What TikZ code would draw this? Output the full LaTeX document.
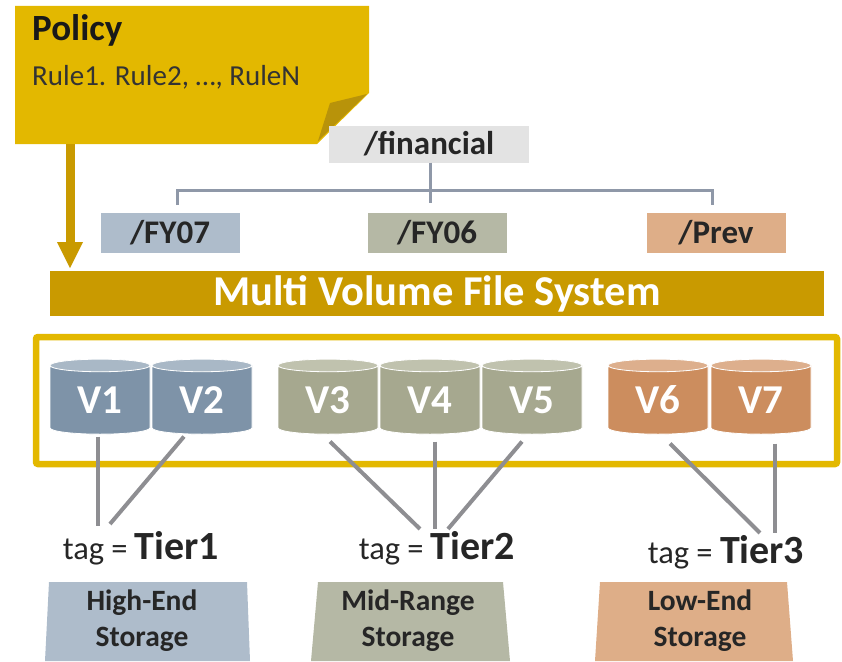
\documentclass[tikz,border=0pt]{standalone}
\usepackage{amsthm, amsmath, amssymb}
\usepackage{fontspec}
\setmainfont{Carlito}
\usetikzlibrary{shapes.geometric}
\definecolor{gold}{HTML}{E3B800}
\definecolor{golddark}{HTML}{C99A00}
\definecolor{foldgold}{HTML}{B8930A}
\definecolor{blueV}{HTML}{7E93A8}
\definecolor{blueVtop}{HTML}{A9B8C6}
\definecolor{oliveV}{HTML}{A6A88F}
\definecolor{oliveVtop}{HTML}{C0C2AE}
\definecolor{orangeV}{HTML}{CC8D5E}
\definecolor{orangeVtop}{HTML}{DDAF8D}
\definecolor{blueS}{HTML}{AEBCCB}
\definecolor{oliveS}{HTML}{B5B8A5}
\definecolor{orangeS}{HTML}{DEAE88}
\definecolor{treeline}{HTML}{8F98A8}
\definecolor{linkgray}{HTML}{8E8E92}
\newcommand{\tiername}[1]{{\fontsize{40}{41}\selectfont\bfseries #1}}
\tikzset{
  dirbox/.style={minimum width=139pt, minimum height=40pt, inner sep=0pt, text=black!85, font=\fontsize{33}{34}\selectfont\bfseries},
  vol/.style={cylinder, shape border rotate=90, aspect=.28, draw=white, line width=.8pt, minimum width=100pt, minimum height=75pt, inner sep=0pt, cylinder uses custom fill, text=white, font=\fontsize{41}{42}\selectfont\bfseries},
  link/.style={line width=4pt, linkgray},
  tagline/.style={inner sep=0pt, text=black!85, font=\fontsize{32.5}{33}\selectfont},
  storetext/.style={align=center, inner sep=0pt, text=black!85, font=\fontsize{29.5}{36}\selectfont\bfseries}
}
\begin{document}
\begin{tikzpicture}[x = 1pt, y = -1pt]
        \useasboundingbox (0,0) rectangle (842,661);
        % policy note
        \fill[gold] (15,6) -- (369,6) -- (369,93) -- (317,144) -- (15,144) -- cycle;
        \fill[foldgold] (330,103) -- (367,94) -- (318,141) -- cycle;
        \node[anchor=west, inner sep=0pt, text=black!90, font=\fontsize{37}{38}\selectfont\bfseries] (policy) at (32,30) {Policy};
        \node[anchor=west, inner sep=0pt, text=black!80, font=\fontsize{29}{30}\selectfont] (rules) at (32,77) {Rule1. Rule2, \dots, RuleN};
        % directory tree
        \node[fill=black!11, dirbox, minimum width=200pt, minimum height=37pt] (fin) at (429,144) {/financial};
        \node[fill=blueS, dirbox] (fy07) at (170,233) {/FY07};
        \node[fill=oliveS, dirbox] (fy06) at (437,233) {/FY06};
        \node[fill=orangeS, dirbox] (prev) at (716,233) {/Prev};
        \coordinate (fork) at (430,190);
        \draw[line width=3pt, treeline] (177,205) -- (177,190) -- (712,190) -- (712,205);
        \draw[line width=3pt, treeline] (fin.south -| fork) -- (430,203);
        % file system bar
        \node[fill=golddark, minimum width=774pt, minimum height=45pt, inner sep=0pt, text=white, font=\fontsize{42.5}{43}\selectfont\bfseries] (mvfs) at (437,293.5) {Multi Volume File System};
        \draw[golddark, line width=9pt] (70,144) -- (70,243);
        \fill[golddark] (57,242) -- (83,242) -- (70,268) -- cycle;
        % volume group
        \draw[gold, line width=6.5pt, rounded corners=2pt] (36,337) rectangle (837,464);
        \foreach \name/\xpos/\body/\lid/\txt in {v1/100/blueV/blueVtop/V1, v2/202/blueV/blueVtop/V2, v3/328/oliveV/oliveVtop/V3, v4/430/oliveV/oliveVtop/V4, v5/532/oliveV/oliveVtop/V5, v6/658/orangeV/orangeVtop/V6, v7/761/orangeV/orangeVtop/V7}
          \node[vol, cylinder body fill=\body, cylinder end fill=\lid] (\name) at (\xpos,400) {\txt};
        % tags
        \node[tagline] (tag1) at (141,548) {tag = \tiername{Tier1}};
        \node[tagline] (tag2) at (437,548) {tag = \tiername{Tier2}};
        \node[tagline] (tag3) at (726,552) {tag = \tiername{Tier3}};
        \draw[link] ([xshift=-2pt,yshift=-2pt]v1.south) -- ([xshift=-43pt,yshift=5pt]tag1.north);
        \draw[link] ([xshift=-18pt,yshift=-2pt]v2.south) -- ([xshift=-31pt,yshift=7pt]tag1.north);
        \draw[link] ([xshift=2pt,yshift=-7pt]v3.south) -- ([xshift=-17pt,yshift=2pt]tag2.north);
        \draw[link] ([xshift=5pt,yshift=-7pt]v4.south) -- ([xshift=-2pt,yshift=2pt]tag2.north);
        \draw[link] ([xshift=-10pt,yshift=-7pt]v5.south) -- ([xshift=11pt,yshift=2pt]tag2.north);
        \draw[link] ([xshift=12pt,yshift=-9pt]v6.south) -- ([xshift=34pt,yshift=2pt]tag3.north);
        \draw[link] ([xshift=14pt,yshift=-9pt]v7.south) -- ([xshift=49pt,yshift=2pt]tag3.north);
        % storage tiers
        \fill[blueS] (49,582) -- (247,582) -- (250,661) -- (45,661) -- cycle;
        \fill[oliveS] (318,582) -- (503,582) -- (510,661) -- (311,661) -- cycle;
        \fill[orangeS] (600,582) -- (787,582) -- (793,661) -- (595,661) -- cycle;
        \node[storetext, anchor=north] (high) at (142,590) {High-End\\Storage};
        \node[storetext, anchor=north] (mid) at (408,590) {Mid-Range\\Storage};
        \node[storetext, anchor=north] (low) at (700,590) {Low-End\\Storage};
      \end{tikzpicture}
\end{document}
